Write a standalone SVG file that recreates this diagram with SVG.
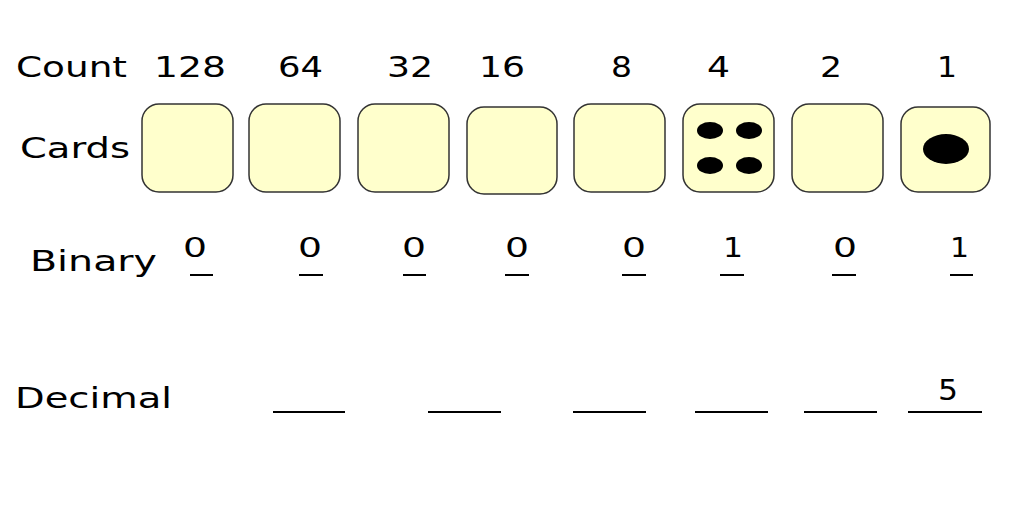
<svg xmlns="http://www.w3.org/2000/svg" width="1024" height="512" viewBox="0 0 1024 512">
<style>
.lbl{font-family:"DejaVu Sans",Verdana,sans-serif;fill:#000}
.card{fill:#FFFFCC;stroke:#333;stroke-width:1.5}
.dot{fill:#000}
.ln{stroke:#000;stroke-width:2}
</style>
<rect width="1024" height="512" fill="#fff"/>
<g id="row-labels">
<text class="lbl" x="16" y="77" font-size="27.5" textLength="111" lengthAdjust="spacingAndGlyphs">Count</text>
<text class="lbl" x="20" y="158" font-size="29" textLength="110" lengthAdjust="spacingAndGlyphs">Cards</text>
<text class="lbl" x="30" y="271" font-size="29" textLength="127" lengthAdjust="spacingAndGlyphs">Binary</text>
<text class="lbl" x="15" y="408" font-size="29" textLength="157" lengthAdjust="spacingAndGlyphs">Decimal</text>
</g>
<g id="counts" class="lbl" font-size="27.5">
<text x="154" y="77" textLength="72" lengthAdjust="spacingAndGlyphs">128</text>
<text x="278" y="77" textLength="45" lengthAdjust="spacingAndGlyphs">64</text>
<text x="387" y="77" textLength="46" lengthAdjust="spacingAndGlyphs">32</text>
<text x="479" y="77" textLength="46" lengthAdjust="spacingAndGlyphs">16</text>
<text x="611" y="77" textLength="21" lengthAdjust="spacingAndGlyphs">8</text>
<text x="707" y="77" textLength="23" lengthAdjust="spacingAndGlyphs">4</text>
<text x="820" y="77" textLength="22" lengthAdjust="spacingAndGlyphs">2</text>
<text x="937" y="77" textLength="20" lengthAdjust="spacingAndGlyphs">1</text>
</g>
<g id="card-128"><rect class="card" x="142" y="104" width="91" height="88" rx="17"/></g>
<g id="card-64"><rect class="card" x="249" y="104" width="91" height="88" rx="17"/></g>
<g id="card-32"><rect class="card" x="358" y="104" width="91" height="88" rx="17"/></g>
<g id="card-16"><rect class="card" x="467" y="107" width="90" height="87" rx="17"/></g>
<g id="card-8"><rect class="card" x="574" y="104" width="91" height="88" rx="17"/></g>
<g id="card-4"><rect class="card" x="683" y="104" width="91" height="88" rx="17"/>
<ellipse class="dot" cx="710" cy="130.5" rx="13" ry="8.5"/>
<ellipse class="dot" cx="749" cy="130.5" rx="13" ry="8.5"/>
<ellipse class="dot" cx="710" cy="165.5" rx="13" ry="8.5"/>
<ellipse class="dot" cx="749" cy="165.5" rx="13" ry="8.5"/>
</g>
<g id="card-2"><rect class="card" x="792" y="104" width="91" height="88" rx="17"/></g>
<g id="card-1"><rect class="card" x="901" y="107" width="89" height="85" rx="17"/>
<ellipse class="dot" cx="946" cy="149" rx="23" ry="15"/>
</g>
<g id="binary" class="lbl" font-size="26">
<text x="183" y="257" textLength="24" lengthAdjust="spacingAndGlyphs">0</text>
<text x="298" y="257" textLength="24" lengthAdjust="spacingAndGlyphs">0</text>
<text x="402" y="257" textLength="24" lengthAdjust="spacingAndGlyphs">0</text>
<text x="505" y="257" textLength="24" lengthAdjust="spacingAndGlyphs">0</text>
<text x="622" y="257" textLength="24" lengthAdjust="spacingAndGlyphs">0</text>
<text x="723" y="257" textLength="20" lengthAdjust="spacingAndGlyphs">1</text>
<text x="833" y="257" textLength="24" lengthAdjust="spacingAndGlyphs">0</text>
<text x="950" y="257" textLength="19" lengthAdjust="spacingAndGlyphs">1</text>
</g>
<g id="lines">
<line class="ln" x1="190" y1="275" x2="213" y2="275"/>
<line class="ln" x1="299" y1="275" x2="323" y2="275"/>
<line class="ln" x1="403" y1="275" x2="426" y2="275"/>
<line class="ln" x1="505" y1="275" x2="529" y2="275"/>
<line class="ln" x1="622" y1="275" x2="646" y2="275"/>
<line class="ln" x1="720" y1="275" x2="744" y2="275"/>
<line class="ln" x1="832" y1="275" x2="856" y2="275"/>
<line class="ln" x1="950" y1="275" x2="973" y2="275"/>
<line class="ln" x1="273" y1="412" x2="345" y2="412"/>
<line class="ln" x1="428" y1="412" x2="501" y2="412"/>
<line class="ln" x1="573" y1="412" x2="646" y2="412"/>
<line class="ln" x1="695" y1="412" x2="768" y2="412"/>
<line class="ln" x1="804" y1="412" x2="877" y2="412"/>
<line class="ln" x1="908" y1="412" x2="982" y2="412"/>
</g>
<g id="decimal"><text class="lbl" x="938" y="400" font-size="29" textLength="20" lengthAdjust="spacingAndGlyphs">5</text></g>
</svg>
